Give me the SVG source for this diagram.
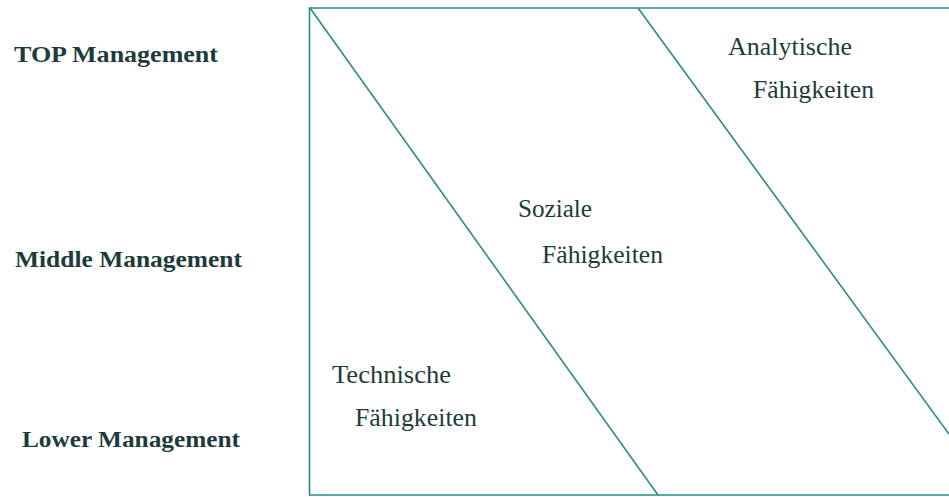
<svg xmlns="http://www.w3.org/2000/svg" width="949" height="497" viewBox="0 0 949 497">
<style>
.lvl{font-family:"Liberation Serif","Times New Roman",serif;font-weight:bold;font-size:24px;fill:#1d3b3b}
.sk{font-family:"Liberation Serif","Times New Roman",serif;font-size:25px;fill:#1d3b3b}
.ln{stroke:#2a8a8a;stroke-width:1.6;fill:none}
</style>
<rect width="949" height="497" fill="#ffffff"/>
<g id="levels">
<text class="lvl" x="14" y="62" textLength="204" lengthAdjust="spacingAndGlyphs">TOP Management</text>
<text class="lvl" x="15" y="267" textLength="227" lengthAdjust="spacingAndGlyphs">Middle Management</text>
<text class="lvl" x="22" y="447" textLength="218" lengthAdjust="spacingAndGlyphs">Lower Management</text>
</g>
<g id="connectors">
<path class="ln" d="M949,8 H309.5 V495 H949"/>
<line class="ln" x1="310" y1="8" x2="658" y2="495"/>
<line class="ln" x1="638" y1="8" x2="949" y2="434"/>
</g>
<g id="technische">
<text class="sk" x="332" y="383" textLength="119" lengthAdjust="spacingAndGlyphs">Technische</text>
<text class="sk" x="355" y="426" textLength="122" lengthAdjust="spacingAndGlyphs">Fähigkeiten</text>
</g>
<g id="soziale">
<text class="sk" x="518" y="217" textLength="74" lengthAdjust="spacingAndGlyphs">Soziale</text>
<text class="sk" x="542" y="263" textLength="121" lengthAdjust="spacingAndGlyphs">Fähigkeiten</text>
</g>
<g id="analytische">
<text class="sk" x="728" y="55" textLength="124" lengthAdjust="spacingAndGlyphs">Analytische</text>
<text class="sk" x="753" y="98" textLength="121" lengthAdjust="spacingAndGlyphs">Fähigkeiten</text>
</g>
</svg>
